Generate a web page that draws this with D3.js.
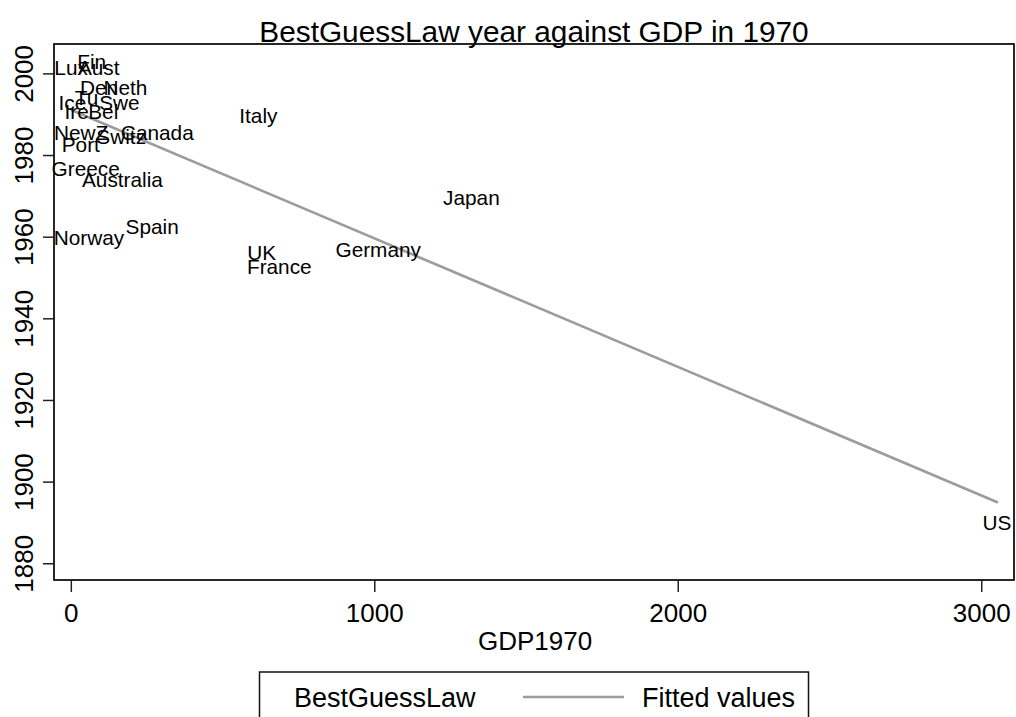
<!DOCTYPE html>
<html>
<head>
<meta charset="utf-8">
<script src="https://cdn.jsdelivr.net/npm/d3@7"></script>
<style>
  html, body { margin: 0; padding: 0; background: #ffffff; }
  svg { display: block; font-family: "Liberation Sans", Arial, Helvetica, sans-serif; }
</style>
</head>
<body>
<svg id="chart" width="1016" height="717"></svg>
<script>
// ---- data ----
const countries = ["Fin","Lux","Aust","Den","Neth","Tu","Swe","Ice","Ire","Bel","NewZ","Switz","Canada","Port","Greece","Australia","Spain","Norway","Italy","Japan","UK","France","Germany","US"];
const gdp1970   = [69, 1, 92, 93, 180, 52, 160, 5, 19, 107, 34, 166, 285, 33, 49, 170, 268, 60, 618, 1320, 629, 687, 1013, 3052];
const lawYear   = [2002.9, 2001.4, 2001.4, 1996.6, 1996.6, 1994.1, 1992.8, 1992.8, 1990.6, 1990.6, 1985.5, 1984.6, 1985.5, 1982.7, 1976.6, 1973.9, 1962.4, 1959.8, 1989.8, 1969.6, 1956.2, 1952.6, 1956.9, 1890.0];
const fittedGDP  = [0, 3055];
const fittedYear = [1991.1, 1894.9];
const xTicks = [0, 1000, 2000, 3000];
const yTicks = [1880, 1900, 1920, 1940, 1960, 1980, 2000];

const svg = d3.select("#chart");
const W = 1016, H = 717;
const plot = { left: 54, right: 1014, top: 44, bottom: 580 };

const x = d3.scaleLinear().domain([-55.4, 3108]).range([plot.left, plot.right]);
const y = d3.scaleLinear().domain([1875.9, 2007.2]).range([plot.bottom, plot.top]);

svg.append("rect").attr("width", W).attr("height", H).attr("fill", "#ffffff");

// title
svg.append("text")
  .attr("x", (plot.left + plot.right) / 2).attr("y", 42)
  .attr("text-anchor", "middle").attr("font-size", 29.8).attr("fill", "#000")
  .text("BestGuessLaw year against GDP in 1970");

// fitted line
const line = d3.line().x(d => x(d[0])).y(d => y(d[1]));
svg.append("path")
  .datum(fittedGDP.map((g, i) => [g, fittedYear[i]]))
  .attr("d", line).attr("fill", "none")
  .attr("stroke", "#9c9c9c").attr("stroke-width", 2.6);

// marker labels (centered on points)
svg.append("g").selectAll("text")
  .data(countries.map((c, i) => ({ c, g: gdp1970[i], yr: lawYear[i] })))
  .join("text")
  .attr("x", d => x(d.g)).attr("y", d => y(d.yr))
  .attr("dy", "0.36em")
  .attr("text-anchor", "middle").attr("font-size", 20.8).attr("fill", "#000")
  .text(d => d.c);

// axes
const xAxis = svg.append("g").attr("transform", `translate(0,${plot.bottom})`)
  .call(d3.axisBottom(x).tickValues(xTicks).tickSize(12).tickFormat(d3.format("d")));
xAxis.select(".domain").remove();
xAxis.selectAll(".tick line").attr("stroke", "#222").attr("stroke-width", 1.5);
xAxis.selectAll(".tick text")
  .attr("y", 42).attr("dy", 0).attr("font-size", 26).attr("fill", "#000")
  .attr("font-family", "Liberation Sans, Arial, sans-serif");

const yAxis = svg.append("g").attr("transform", `translate(${plot.left},0)`)
  .call(d3.axisLeft(y).tickValues(yTicks).tickSize(11).tickFormat(d3.format("d")));
yAxis.select(".domain").remove();
yAxis.selectAll(".tick line").attr("stroke", "#222").attr("stroke-width", 1.5);
yAxis.selectAll(".tick text")
  .attr("x", 0).attr("y", 0).attr("dy", 0)
  .attr("transform", "translate(-21,0) rotate(-90)")
  .attr("text-anchor", "middle").attr("font-size", 26).attr("fill", "#000")
  .attr("font-family", "Liberation Sans, Arial, sans-serif");

// plot frame
svg.append("rect")
  .attr("x", plot.left).attr("y", plot.top)
  .attr("width", plot.right - plot.left).attr("height", plot.bottom - plot.top)
  .attr("fill", "none").attr("stroke", "#111").attr("stroke-width", 1.8);

// x axis title
svg.append("text")
  .attr("x", 535).attr("y", 650)
  .attr("text-anchor", "middle").attr("font-size", 26).attr("fill", "#000")
  .text("GDP1970");

// legend
const lg = svg.append("g");
lg.append("rect").attr("x", 259.5).attr("y", 672).attr("width", 549).attr("height", 80)
  .attr("fill", "#fff").attr("stroke", "#111").attr("stroke-width", 1.5);
lg.append("text").attr("x", 294).attr("y", 707).attr("font-size", 27).attr("fill", "#000")
  .text("BestGuessLaw");
lg.append("line").attr("x1", 523).attr("x2", 624).attr("y1", 697).attr("y2", 697)
  .attr("stroke", "#9c9c9c").attr("stroke-width", 2.6);
lg.append("text").attr("x", 642).attr("y", 707).attr("font-size", 27).attr("fill", "#000")
  .text("Fitted values");
</script>
</body>
</html>
